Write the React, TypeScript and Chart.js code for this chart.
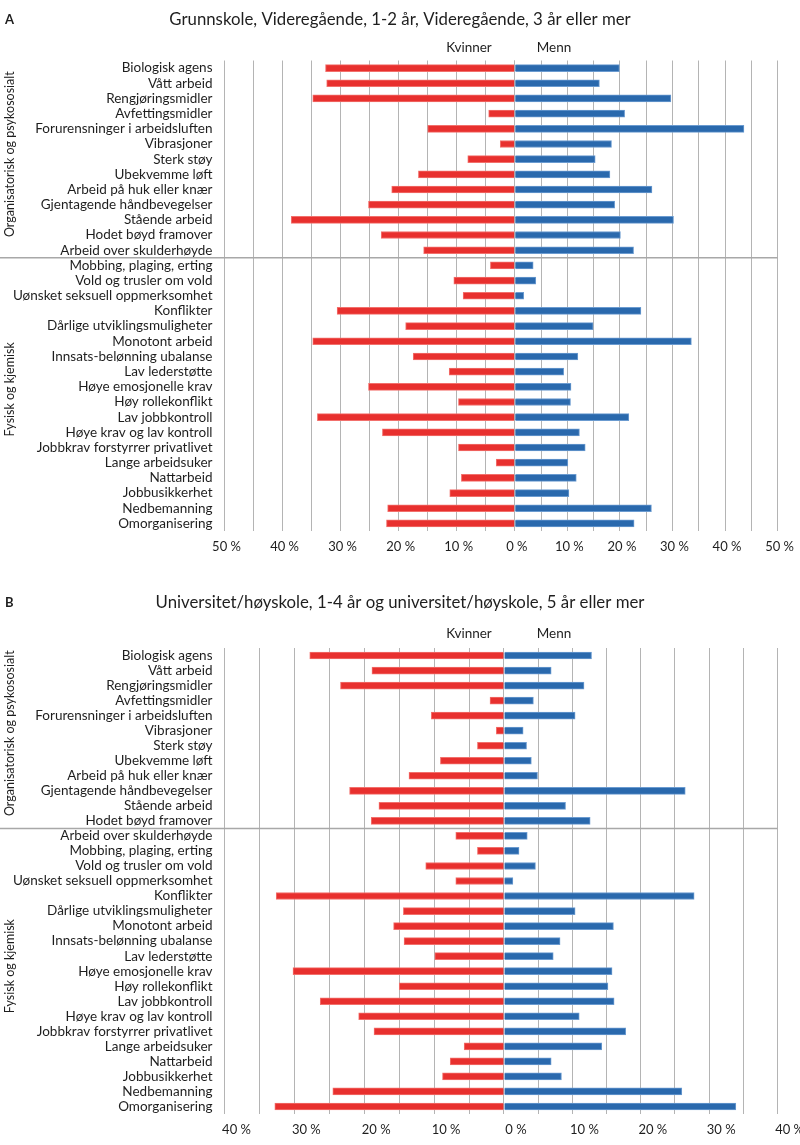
import { useEffect, useRef } from 'react';
import { Chart, registerables } from 'chart.js';

Chart.register(...registerables);

const FONT = 'Lato, "Liberation Sans", sans-serif';

const groupLabels = ['Organisatorisk og psykososialt', 'Fysisk og kjemisk'];

const categoriesA = [
  'Biologisk agens', 'Vått arbeid', 'Rengjøringsmidler', 'Avfettingsmidler',
  'Forurensninger i arbeidsluften', 'Vibrasjoner', 'Sterk støy', 'Ubekvemme løft',
  'Arbeid på huk eller knær', 'Gjentagende håndbevegelser', 'Stående arbeid',
  'Hodet bøyd framover', 'Arbeid over skulderhøyde',
  'Mobbing, plaging, erting', 'Vold og trusler om vold', 'Uønsket seksuell oppmerksomhet',
  'Konflikter', 'Dårlige utviklingsmuligheter', 'Monotont arbeid', 'Innsats-belønning ubalanse',
  'Lav lederstøtte', 'Høye emosjonelle krav', 'Høy rollekonflikt', 'Lav jobbkontroll',
  'Høye krav og lav kontroll', 'Jobbkrav forstyrrer privatlivet', 'Lange arbeidsuker',
  'Nattarbeid', 'Jobbusikkerhet', 'Nedbemanning', 'Omorganisering',
];
const groupSizesA = [13, 18];
const kvinnerA = [32.6, 32.4, 34.8, 4.5, 15.0, 2.5, 8.1, 16.6, 21.2, 25.2, 38.5, 23.0, 15.7,
  4.2, 10.5, 8.9, 30.6, 18.8, 34.8, 17.5, 11.3, 25.2, 9.7, 34.0, 22.8, 9.7, 3.2, 9.2, 11.2, 21.9, 22.1];
const mennA = [19.9, 16.1, 29.7, 20.9, 43.6, 18.4, 15.3, 18.1, 26.1, 19.0, 30.2, 20.1, 22.6,
  3.5, 4.0, 1.7, 24.0, 14.9, 33.6, 12.0, 9.3, 10.7, 10.6, 21.7, 12.3, 13.4, 10.1, 11.7, 10.3, 26.0, 22.7];

const categoriesB = [
  'Biologisk agens', 'Vått arbeid', 'Rengjøringsmidler', 'Avfettingsmidler',
  'Forurensninger i arbeidsluften', 'Vibrasjoner', 'Sterk støy', 'Ubekvemme løft',
  'Arbeid på huk eller knær', 'Gjentagende håndbevegelser', 'Stående arbeid',
  'Hodet bøyd framover',
  'Arbeid over skulderhøyde', 'Mobbing, plaging, erting', 'Vold og trusler om vold',
  'Uønsket seksuell oppmerksomhet', 'Konflikter', 'Dårlige utviklingsmuligheter',
  'Monotont arbeid', 'Innsats-belønning ubalanse', 'Lav lederstøtte', 'Høye emosjonelle krav',
  'Høy rollekonflikt', 'Lav jobbkontroll', 'Høye krav og lav kontroll',
  'Jobbkrav forstyrrer privatlivet', 'Lange arbeidsuker', 'Nattarbeid', 'Jobbusikkerhet',
  'Nedbemanning', 'Omorganisering',
];
const groupSizesB = [12, 19];
const kvinnerB = [27.8, 18.9, 23.4, 2.0, 10.4, 1.1, 3.8, 9.1, 13.6, 22.1, 17.9, 19.0,
  6.9, 3.8, 11.2, 6.9, 32.6, 14.4, 15.8, 14.3, 9.9, 30.2, 15.0, 26.3, 20.8, 18.6, 5.7, 7.7, 8.8, 24.5, 32.8];
const mennB = [12.8, 6.9, 11.7, 4.3, 10.4, 2.8, 3.3, 4.0, 4.9, 26.5, 9.0, 12.6,
  3.4, 2.2, 4.6, 1.3, 27.8, 10.4, 16.0, 8.2, 7.2, 15.8, 15.2, 16.1, 11.0, 17.8, 14.3, 6.9, 8.4, 26.0, 33.9];

const seriesNames = ['Kvinner', 'Menn'];

const RED = '#e8302e';
const RED_EDGE = '#f2706c';
const BLUE = '#2a69ad';
const BLUE_EDGE = '#6b9bd0';
const GRID = '#b4b4b4';
const TEXT = '#1e1e1e';

const decorPlugin = {
  id: 'decor',
  afterDraw(chart: any, _args: any, opts: any) {
    const { ctx, chartArea, scales } = chart;
    const y = scales.y;
    ctx.save();
    ctx.fillStyle = TEXT;
    ctx.textBaseline = 'middle';
    ctx.textAlign = 'center';
    ctx.font = `16.8px ${FONT}`;
    ctx.fillText(opts.title, 400, opts.titleY);
    ctx.textAlign = 'left';
    ctx.font = `bold 13px ${FONT}`;
    ctx.fillText(opts.letter, 5, opts.titleY);
    ctx.textAlign = 'center';
    ctx.font = `13.5px ${FONT}`;
    ctx.fillText(seriesNames[0], 469, opts.headerY);
    ctx.fillText(seriesNames[1], 554, opts.headerY);

    const step = y.getPixelForValue(1) - y.getPixelForValue(0);
    let start = 0;
    opts.groups.forEach((n: number, gi: number) => {
      const top = y.getPixelForValue(start) - step / 2;
      const bottom = y.getPixelForValue(start + n - 1) + step / 2;
      ctx.save();
      ctx.translate(10, (top + bottom) / 2 - 5);
      ctx.rotate(-Math.PI / 2);
      ctx.font = `12.5px ${FONT}`;
      ctx.fillText(groupLabels[gi], 0, 0);
      ctx.restore();
      if (gi < opts.groups.length - 1) {
        ctx.strokeStyle = '#a8a8a8';
        ctx.lineWidth = 1.5;
        ctx.beginPath();
        ctx.moveTo(0, bottom);
        ctx.lineTo(chartArea.right, bottom);
        ctx.stroke();
      }
      start += n;
    });
    ctx.restore();
  },
};

type PanelProps = {
  height: number;
  letter: string;
  title: string;
  titleY: number;
  headerY: number;
  categories: string[];
  kvinner: number[];
  menn: number[];
  groups: number[];
  max: number;
  leftWeight: number;
  rightWeight: number;
  padTop: number;
  padBottom: number;
  labelOffset: number;
};

function Panel(p: PanelProps) {
  const ref = useRef<HTMLCanvasElement>(null);
  useEffect(() => {
    if (!ref.current) return;
    const tickCb = (showZero: boolean) => (v: any) => {
      const n = Number(v);
      if (n % 10 !== 0) return '';
      if (n === 0 && !showZero) return '';
      return `${n} %`;
    };
    const xAxis = (reverse: boolean, weight: number, showZero: boolean) => ({
      type: 'linear',
      position: 'bottom',
      stack: 'x',
      stackWeight: weight,
      reverse,
      min: 0,
      max: p.max,
      afterFit: (s: any) => { s.height = 30; },
      grid: { display: true, color: GRID, lineWidth: 1, drawTicks: false },
      border: { display: false },
      ticks: {
        stepSize: 5,
        autoSkip: false,
        maxRotation: 0,
        padding: 8,
        labelOffset: p.labelOffset,
        color: TEXT,
        font: { family: FONT, size: 13 },
        callback: tickCb(showZero),
      },
    });
    const chart = new Chart(ref.current, {
      type: 'bar',
      data: {
        labels: p.categories,
        datasets: [
          {
            label: seriesNames[0],
            data: p.kvinner,
            xAxisID: 'xL',
            yAxisID: 'y',
            backgroundColor: RED,
            borderColor: RED_EDGE,
            borderWidth: 1,
            barThickness: 7,
            grouped: false,
          },
          {
            label: seriesNames[1],
            data: p.menn,
            xAxisID: 'xR',
            yAxisID: 'y',
            backgroundColor: BLUE,
            borderColor: BLUE_EDGE,
            borderWidth: 1,
            barThickness: 7,
            grouped: false,
          },
        ],
      },
      options: {
        indexAxis: 'y',
        animation: false,
        responsive: true,
        maintainAspectRatio: false,
        layout: { padding: { left: 0, right: 22, top: p.padTop, bottom: p.padBottom } },
        plugins: {
          legend: { display: false },
          title: { display: false },
          tooltip: { enabled: false },
          decor: {
            letter: p.letter,
            title: p.title,
            titleY: p.titleY,
            headerY: p.headerY,
            groups: p.groups,
          },
        } as any,
        scales: {
          xL: xAxis(true, p.leftWeight, true),
          xR: xAxis(false, p.rightWeight, false),
          y: {
            type: 'category',
            position: 'left',
            afterFit: (s: any) => { s.width = 224.5; },
            grid: { display: false, drawTicks: false },
            border: { display: false },
            ticks: {
              autoSkip: false,
              padding: 12,
              color: TEXT,
              font: { family: FONT, size: 13.5 },
            },
          },
        } as any,
      },
      plugins: [decorPlugin],
    } as any);
    return () => chart.destroy();
  }, []);
  return (
    <div style={{ position: 'relative', width: 800, height: p.height }}>
      <canvas ref={ref} />
    </div>
  );
}

export default function App() {
  return (
    <div style={{ position: 'absolute', left: 0, top: 0, width: 800, height: 1145, background: '#fff' }}>
      <Panel
        height={575}
        letter="A"
        title="Grunnskole, Videregående, 1-2 år, Videregående, 3 år eller mer"
        titleY={20}
        headerY={48}
        categories={categoriesA}
        kvinner={kvinnerA}
        menn={mennA}
        groups={groupSizesA}
        max={50}
        leftWeight={290.5}
        rightWeight={263}
        padTop={60.5}
        padBottom={14}
        labelOffset={2}
      />
      <Panel
        height={570}
        letter="B"
        title="Universitet/høyskole, 1-4 år og universitet/høyskole, 5 år eller mer"
        titleY={28}
        headerY={59}
        categories={categoriesB}
        kvinner={kvinnerB}
        menn={mennB}
        groups={groupSizesB}
        max={40}
        leftWeight={279.5}
        rightWeight={273.6}
        padTop={73}
        padBottom={1}
        labelOffset={12}
      />
    </div>
  );
}
